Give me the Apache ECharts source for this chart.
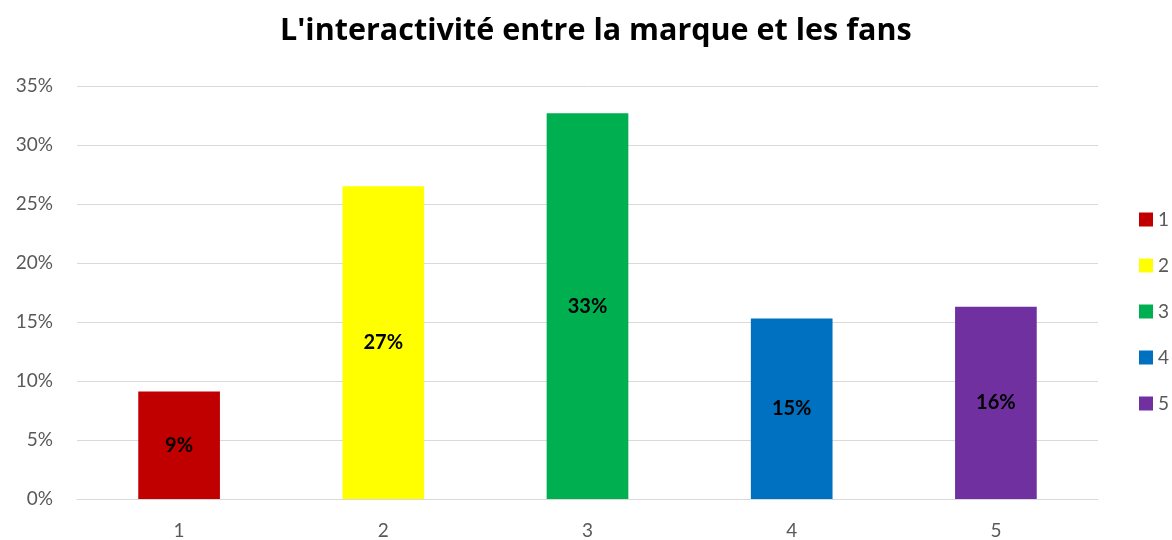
<!DOCTYPE html>
<html>
<head>
<meta charset="utf-8">
<script src="https://cdn.jsdelivr.net/npm/echarts@6/dist/echarts.min.js"></script>
<style>
  html, body { margin: 0; padding: 0; background: #fff; }
  #chart { width: 1172px; height: 540px; }
</style>
</head>
<body>
<div id="chart"></div>
<script>
// data
const categories = ['1', '2', '3', '4', '5']
const values = [0.091, 0.265, 0.327, 0.153, 0.163]
const colors = ['#C00000', '#FFFF00', '#00B050', '#0070C0', '#7030A0']
const yTicks = [0, 0.05, 0.1, 0.15, 0.2, 0.25, 0.3, 0.35]

const FONT = 'Lato, "Open Sans", sans-serif'
const GREY = '#595959'

const chart = echarts.init(document.getElementById('chart'))

// one series per category so the legend lists each bar
const series = categories.map((name, i) => ({
  name,
  type: 'bar',
  stack: 'all',
  barWidth: '40%',
  data: values.map((v, j) => (j === i ? v : null)),
  itemStyle: { color: colors[i] },
  label: {
    show: true,
    position: 'inside',
    color: '#000',
    fontFamily: FONT,
    fontWeight: 'bold',
    fontSize: 20,
    formatter: (p) => Math.round(p.value * 100) + '%',
  },
}))

chart.setOption({
  animation: false,
  textStyle: { fontFamily: FONT },
  title: {
    text: "L'interactivité entre la marque et les fans",
    left: 280,
    top: 16,
    padding: 0,
    textStyle: { fontFamily: '"Open Sans", sans-serif', fontWeight: 'bold', fontSize: 30.5, color: '#000' },
  },
  grid: { left: 77, right: 74, top: 86, bottom: 40 },
  legend: {
    orient: 'vertical',
    left: 1139,
    top: 210,
    padding: 0,
    itemWidth: 14,
    itemHeight: 14,
    itemGap: 27,
    icon: 'rect',
    textStyle: { color: GREY, fontSize: 19, fontFamily: FONT },
    data: categories,
  },
  xAxis: {
    type: 'category',
    data: categories,
    axisLine: { lineStyle: { color: '#D9D9D9', width: 1 } },
    axisTick: { show: false },
    axisLabel: { color: GREY, fontSize: 19, margin: 22 },
  },
  yAxis: {
    type: 'value',
    min: yTicks[0],
    max: yTicks[yTicks.length - 1],
    interval: 0.05,
    axisLine: { show: false },
    axisTick: { show: false },
    axisLabel: {
      color: GREY,
      fontSize: 19,
      margin: 24,
      formatter: (v) => Math.round(v * 100) + '%',
    },
    splitLine: { lineStyle: { color: '#D9D9D9', width: 1 } },
  },
  series,
})
</script>
</body>
</html>
